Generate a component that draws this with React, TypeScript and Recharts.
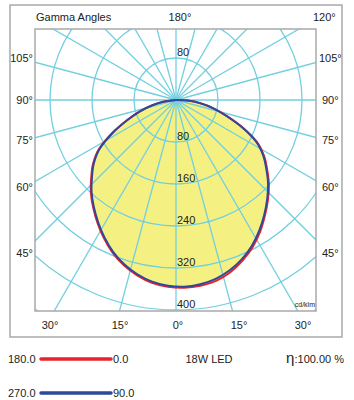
import { RadarChart, Radar, PolarGrid, PolarAngleAxis, PolarRadiusAxis } from 'recharts'

// gamma angles (deg) for each half plane, 5 deg steps
const GAMMA = [
  0, 5, 10, 15, 20, 25, 30, 35, 40, 45, 50, 55, 60, 65, 70, 75, 80, 85, 90,
  95, 100, 105, 110, 115, 120, 125, 130, 135, 140, 145, 150, 155, 160, 165, 170, 175, 180,
]

// luminous intensity, cd/klm
const C0 = [
  358, 357, 353, 344, 331, 316, 298, 278, 259, 240, 219, 199, 174, 138, 102, 73, 47, 23, 0,
  0, 0, 0, 0, 0, 0, 0, 0, 0, 0, 0, 0, 0, 0, 0, 0, 0, 0,
]
const C180 = [
  358, 356, 351, 342, 330, 315, 297, 278, 259, 240, 219, 199, 174, 138, 102, 73, 47, 23, 0,
  0, 0, 0, 0, 0, 0, 0, 0, 0, 0, 0, 0, 0, 0, 0, 0, 0, 0,
]
const C90 = [
  356, 354, 349, 340, 328, 313, 295, 276, 257, 238, 217, 197, 172, 136, 100, 72, 46, 22, 0,
  0, 0, 0, 0, 0, 0, 0, 0, 0, 0, 0, 0, 0, 0, 0, 0, 0, 0,
]
const C270 = [
  356, 354, 349, 340, 328, 313, 295, 276, 257, 238, 217, 197, 172, 136, 100, 72, 46, 22, 0,
  0, 0, 0, 0, 0, 0, 0, 0, 0, 0, 0, 0, 0, 0, 0, 0, 0, 0,
]

const RINGS = [80, 160, 240, 320, 400, 480]
const RING_LABELS = [80, 160, 240, 320, 400]
const GRID_ANGLES = [0, 15, 30, 45, 60, 75, 90, 105, 120, 135, 150, 165, 180, 195, 210, 225, 240, 255, 270, 285, 300, 315, 330, 345]

const TOP_LABELS = ['Gamma Angles', '180°', '120°']
const SIDE_LABELS = ['105°', '90°', '75°', '60°', '45°']
const BOTTOM_LABELS = ['30°', '15°', '0°', '15°', '30°']

// right half is C0 / C90, left half C180 / C270
const rows = [
  ...GAMMA.map((g, i) => ({ k: 'R' + g, red: C0[i], blue: C90[i] })),
  ...GAMMA.slice(1, -1).reverse().map((g) => ({
    k: 'L' + g,
    red: C180[GAMMA.indexOf(g)],
    blue: C270[GAMMA.indexOf(g)],
  })),
]

const FONT = '"Liberation Sans", Arial, sans-serif'
const PLOT = { left: 35, top: 29, w: 281, h: 282 }
const CX = 176 - PLOT.left
const CY = 100 - PLOT.top
const OUTER = 262.5
const GRID = '#72cfe0'
const INK = '#222'
// categories sit in the middle of their band, so shift back half a step
const HALF_STEP = 180 / rows.length

// catmull-rom path through the radar points
function smoothPath(p: { x: number; y: number }[]) {
  let d = `M${p[0].x},${p[0].y}`
  for (let i = 0; i < p.length - 1; i++) {
    const a = p[Math.max(i - 1, 0)]
    const b = p[i]
    const c = p[i + 1]
    const e = p[Math.min(i + 2, p.length - 1)]
    d += `C${b.x + (c.x - a.x) / 6},${b.y + (c.y - a.y) / 6} ${c.x - (e.x - b.x) / 6},${c.y - (e.y - b.y) / 6} ${c.x},${c.y}`
  }
  return d
}

// left side gamma 90 -> 0, then right side 0 -> 90
function smooth(stroke: string, fill: string, width = 2) {
  return (props: any) => {
    const pts = props.points || []
    const n = pts.length
    if (n < 40) return <g />
    const seq = [...pts.slice(n - 18), ...pts.slice(0, 19)]
    return <path d={smoothPath(seq) + (fill !== 'none' ? 'Z' : '')} stroke={stroke} strokeWidth={width} fill={fill} strokeLinejoin="round" />
  }
}

function RingTick(props: any) {
  const { x, y, payload } = props
  const v = payload.value
  if (!RING_LABELS.includes(v)) return <g />
  return (
    <g fontFamily={FONT} fontSize={11} fill={INK}>
      <text x={x + 1} y={y - 2}>{v}</text>
      {v === RING_LABELS[0] && <text x={x + 1} y={2 * CY - y - 2}>{v}</text>}
    </g>
  )
}

function Polar({ children }: { children: any }) {
  return (
    <div style={{ position: 'absolute', left: 0, top: 0 }}>
      <RadarChart
        width={PLOT.w}
        height={PLOT.h}
        cx={CX}
        cy={CY}
        outerRadius={OUTER}
        startAngle={-90 - HALF_STEP}
        endAngle={270 - HALF_STEP}
        data={rows}
        margin={{ top: 0, right: 0, bottom: 0, left: 0 }}
      >
        <PolarAngleAxis dataKey="k" tick={false} axisLine={false} tickLine={false} />
        {children}
      </RadarChart>
    </div>
  )
}

export default function App() {
  const sideY = [62, 104, 144, 191, 257]
  const bottomX = [50, 120, 178, 239, 303]
  return (
    <div style={{ position: 'fixed', left: 0, top: 0, width: 354, height: 400, background: '#fff' }}>
      <div
        style={{
          position: 'absolute',
          left: PLOT.left,
          top: PLOT.top,
          width: PLOT.w,
          height: PLOT.h,
          overflow: 'hidden',
        }}
      >
        <Polar>
          <PolarRadiusAxis angle={-90} domain={[0, 500]} ticks={RINGS} tick={false} axisLine={false} tickLine={false} />
          <Radar dataKey="red" shape={smooth('none', '#f5f082', 0)} fill="#f5f082" fillOpacity={1} stroke="none" isAnimationActive={false} />
        </Polar>
        <Polar>
          <PolarGrid gridType="circle" polarAngles={GRID_ANGLES} stroke={GRID} strokeWidth={1.3} strokeOpacity={1} />
          <PolarRadiusAxis angle={-90} domain={[0, 500]} ticks={RINGS} tick={RingTick} axisLine={false} tickLine={false} />
          <Radar dataKey="red" shape={smooth('#e8232b', 'none')} stroke="#e8232b" strokeWidth={2} fill="none" isAnimationActive={false} />
          <Radar dataKey="blue" shape={smooth('#2f479d', 'none')} stroke="#2f479d" strokeWidth={2} fill="none" isAnimationActive={false} />
        </Polar>
      </div>

      <svg width={354} height={400} style={{ position: 'absolute', left: 0, top: 0 }} fontFamily={FONT} fontSize={11} fill={INK}>
        <rect x={10} y={5} width={332} height={332} fill="none" stroke="#a9a9a9" strokeWidth={1.5} />
        <rect x={PLOT.left} y={PLOT.top} width={PLOT.w} height={PLOT.h} fill="none" stroke="#a9a9a9" strokeWidth={1.5} />

        <text x={36} y={21}>{TOP_LABELS[0]}</text>
        <text x={180} y={21} textAnchor="middle">{TOP_LABELS[1]}</text>
        <text x={313} y={21}>{TOP_LABELS[2]}</text>

        {SIDE_LABELS.map((s, i) => (
          <g key={i}>
            <text x={33} y={sideY[i]} textAnchor="end">{s}</text>
            <text x={i === 0 ? 319 : 322} y={sideY[i]}>{s}</text>
          </g>
        ))}
        {BOTTOM_LABELS.map((s, i) => (
          <text key={i} x={bottomX[i]} y={329} textAnchor="middle">{s}</text>
        ))}
        <text x={315} y={307} fontSize={7} textAnchor="end">cd/klm</text>

        <text x={8} y={363}>180.0</text>
        <line x1={41} y1={359} x2={111} y2={359} stroke="#e8232b" strokeWidth={3.5} strokeLinecap="round" />
        <text x={113} y={363}>0.0</text>
        <text x={209} y={363} textAnchor="middle">18W LED</text>
        <text x={344} y={363} textAnchor="end">
          <tspan fontSize={15}>η</tspan>
          <tspan>:100.00 %</tspan>
        </text>

        <text x={8} y={397}>270.0</text>
        <line x1={41} y1={393} x2={111} y2={393} stroke="#2f479d" strokeWidth={3.5} strokeLinecap="round" />
        <text x={113} y={397}>90.0</text>
      </svg>
    </div>
  )
}
